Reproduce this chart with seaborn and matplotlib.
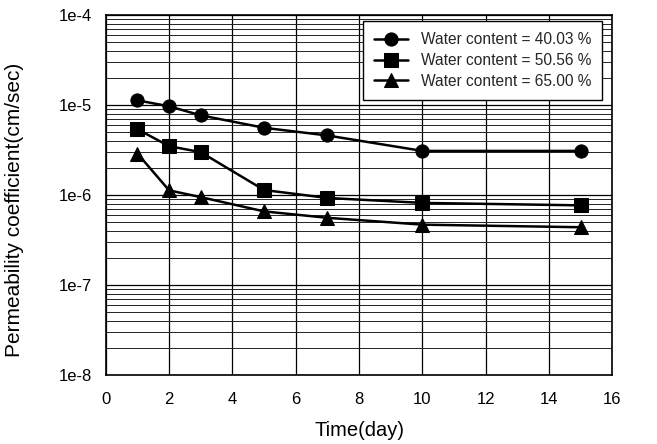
import numpy as np
import pandas as pd
import matplotlib
matplotlib.use("Agg")
import matplotlib.pyplot as plt
from matplotlib.ticker import LogLocator, FixedLocator, FixedFormatter, NullFormatter
import seaborn as sns

days = [1, 2, 3, 5, 7, 10, 15]
k_40 = [1.13e-5, 0.97e-5, 0.77e-5, 0.56e-5, 0.46e-5, 0.31e-5, 0.31e-5]
k_50 = [0.54e-5, 0.35e-5, 0.30e-5, 1.14e-6, 0.93e-6, 0.82e-6, 0.77e-6]
k_65 = [0.29e-5, 1.13e-6, 0.95e-6, 0.66e-6, 0.56e-6, 0.47e-6, 0.44e-6]
series_names = ["Water content = 40.03 %",
                "Water content = 50.56 %",
                "Water content = 65.00 %"]
y_ticks = [1e-8, 1e-7, 1e-6, 1e-5, 1e-4]
y_tick_labels = ["1e-8", "1e-7", "1e-6", "1e-5", "1e-4"]
x_ticks = [0, 2, 4, 6, 8, 10, 12, 14, 16]

df = pd.DataFrame({
    "day": days * 3,
    "k": k_40 + k_50 + k_65,
    "series": [s for s in series_names for _ in days],
})

sns.set_theme(style="white")
plt.rcParams["font.family"] = ["Liberation Sans", "DejaVu Sans"]

fig = plt.figure(figsize=(6.57, 4.44), dpi=100)
ax = fig.add_axes([0.161, 0.155, 0.771, 0.811])

sns.lineplot(data=df, x="day", y="k", style="series", markers=["o", "s", "^"],
             dashes=False, color="black", linewidth=1.8, markersize=9.5,
             markeredgecolor="black", ax=ax)

ax.set_yscale("log")
ax.set_ylim(1e-8, 1e-4)
ax.set_xlim(0, 16)
ax.yaxis.set_major_locator(FixedLocator(y_ticks))
ax.yaxis.set_major_formatter(FixedFormatter(y_tick_labels))
ax.yaxis.set_minor_locator(LogLocator(base=10, subs=np.arange(2, 10)))
ax.yaxis.set_minor_formatter(NullFormatter())
ax.set_xticks(x_ticks)

ax.grid(True, which="major", axis="both", color="black", linewidth=0.9)
ax.grid(True, which="minor", axis="y", color="#222222", linewidth=0.7)
for sp in ax.spines.values():
    sp.set_color("black")
    sp.set_linewidth(1.2)

ax.tick_params(axis="both", which="major", direction="out", length=5,
               width=1, color="black", labelsize=12, labelcolor="black", pad=5)
ax.tick_params(axis="y", which="minor", length=0)
ax.tick_params(axis="x", pad=7)

ax.set_xlabel("Time(day)", fontsize=14.5, color="black", labelpad=10)
ax.set_ylabel("Permeability coefficient(cm/sec)", fontsize=15, color="black")
ax.yaxis.set_label_coords(-0.162, 0.458)

leg = ax.legend(title=None, loc="upper right", bbox_to_anchor=(0.980, 0.983),
                borderaxespad=0, fontsize=11.2, frameon=True, fancybox=False,
                framealpha=1, edgecolor="black", handlelength=2.2,
                borderpad=0.7, labelspacing=0.38)
leg.get_frame().set_linewidth(1.0)

fig.savefig("out.png", dpi=100)
